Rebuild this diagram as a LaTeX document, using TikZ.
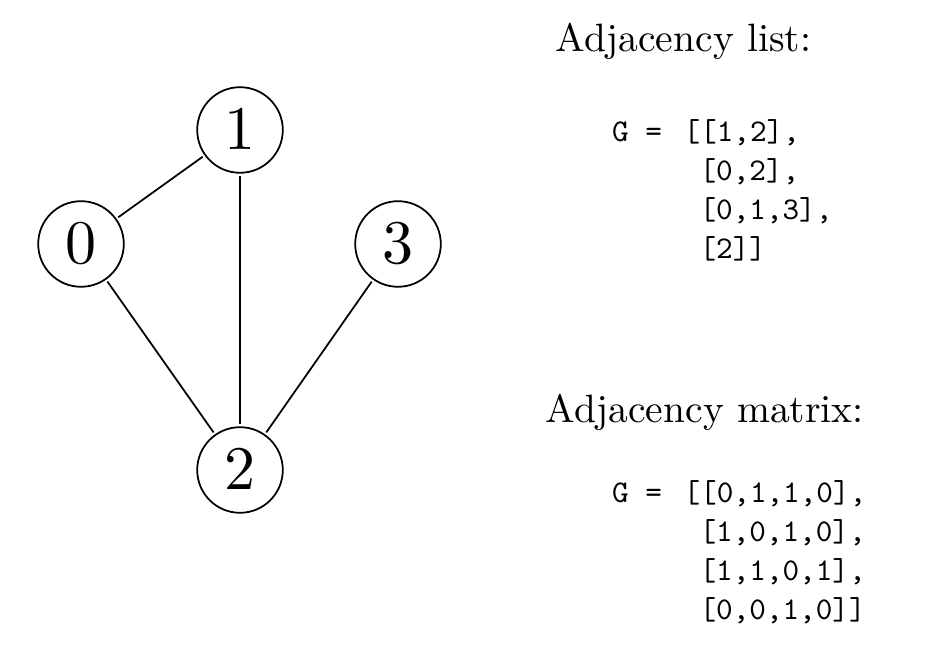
\documentclass[tikz,border=0pt]{standalone}
\usepackage{amsmath}
\usepackage{tikz}
\tikzstyle{vertice}=[circle,draw,inner sep=0pt,minimum size=0.485cm,scale=3.53]
\tikzstyle{titulo}=[inner sep=0pt,anchor=base west,scale=2.25]
\tikzstyle{codigo}=[inner sep=0pt,anchor=base west,scale=1.8,font=\ttfamily]

\begin{document}
\begin{tikzpicture}[line width=1pt]
    \useasboundingbox (0,0) rectangle (18.6,13);
    % grafo
    \node [vertice] (v0) at (1.62, 8.12) {$0$};
    \node [vertice] (v1) at (4.80, 10.40) {$1$};
    \node [vertice] (v2) at (4.80, 3.60) {$2$};
    \node [vertice] (v3) at (7.96, 8.12) {$3$};
    \draw (v0) -- (v1);
    \draw (v1) -- (v2);
    \draw (v0) -- (v2);
    \draw (v3) -- (v2);
    % lista de adyacencia
    \node [titulo] (tlista) at (11.08, 11.96) {Adjacency list:};
    \node [codigo] (glista) at (12.21, 10.16) {G =};
    \node [codigo] (l0) at (13.64, 10.16) {[[1,2],};
    \node [codigo] (l1) at (13.96, 9.38) {[0,2],};
    \node [codigo] (l2) at (13.96, 8.60) {[0,1,3],};
    \node [codigo] (l3) at (13.96, 7.82) {[2]]};
    % matriz de adyacencia
    \node [titulo] (tmatriz) at (10.88, 4.54) {Adjacency matrix:};
    \node [codigo] (gmatriz) at (12.21, 2.94) {G =};
    \node [codigo] (m0) at (13.64, 2.94) {[[0,1,1,0],};
    \node [codigo] (m1) at (13.96, 2.16) {[1,0,1,0],};
    \node [codigo] (m2) at (13.96, 1.38) {[1,1,0,1],};
    \node [codigo] (m3) at (13.96, 0.60) {[0,0,1,0]]};
\end{tikzpicture}
\end{document}
